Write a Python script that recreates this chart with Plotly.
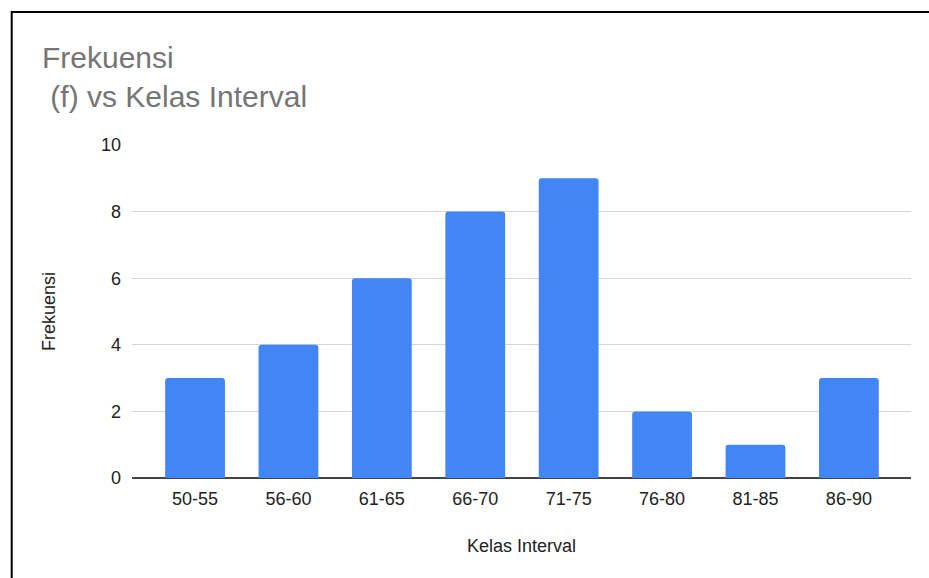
import plotly.graph_objects as go

# Frequency distribution by class interval
kelas_interval = ["50-55", "56-60", "61-65", "66-70", "71-75", "76-80", "81-85", "86-90"]
frekuensi = [3, 4, 6, 8, 9, 2, 1, 3]
y_ticks = [0, 2, 4, 6, 8, 10]

W, H = 929, 578
L, R, T, B = 132, 18, 145, 100
pw, ph = W - L - R, H - T - B


def px_x(px):
    return (px - L) / pw


def px_y(py):
    return (H - B - py) / ph


FONT = "Liberation Sans, Arial, sans-serif"

fig = go.Figure(
    go.Bar(
        x=kelas_interval,
        y=frekuensi,
        marker=dict(color="#4285F4", cornerradius=3, line=dict(width=0)),
        hoverinfo="x+y",
    )
)

fig.update_layout(
    width=W,
    height=H,
    margin=dict(l=L, r=R, t=T, b=B, pad=0),
    paper_bgcolor="white",
    plot_bgcolor="white",
    bargap=0.36,
    showlegend=False,
    font=dict(family=FONT, color="#222222", size=18),
    title=dict(
        text="Frekuensi<br>\u00a0(f) vs Kelas Interval",
        font=dict(family=FONT, size=30, color="#757575"),
        x=42 / W,
        xanchor="left",
        xref="container",
        y=1 - 68 / H,
        yanchor="top",
        yref="container",
    ),
    xaxis=dict(
        type="category",
        range=[-0.675, 7.665],
        showgrid=False,
        showline=False,
        zeroline=False,
        ticks="",
        tickfont=dict(family=FONT, size=18, color="#222222"),
        ticklabelstandoff=8,
        title=dict(
            text="Kelas Interval",
            font=dict(family=FONT, size=18, color="#222222"),
            standoff=31,
        ),
    ),
    yaxis=dict(
        range=[0, 10],
        tickvals=y_ticks,
        showgrid=True,
        gridcolor="#d6d6d6",
        gridwidth=1,
        zeroline=True,
        zerolinecolor="#444444",
        zerolinewidth=1.5,
        showline=False,
        ticks="",
        tickfont=dict(family=FONT, size=18, color="#222222"),
        ticklabelstandoff=10,
        title=dict(
            text="Frekuensi",
            font=dict(family=FONT, size=18, color="#222222"),
            standoff=40,
        ),
    ),
    shapes=[
        dict(
            type="rect",
            xref="paper",
            yref="paper",
            x0=px_x(11.7),
            x1=px_x(945),
            y0=px_y(600),
            y1=px_y(12),
            line=dict(color="black", width=2),
            fillcolor="rgba(0,0,0,0)",
            layer="above",
        )
    ],
)

fig.write_html("out.html")
